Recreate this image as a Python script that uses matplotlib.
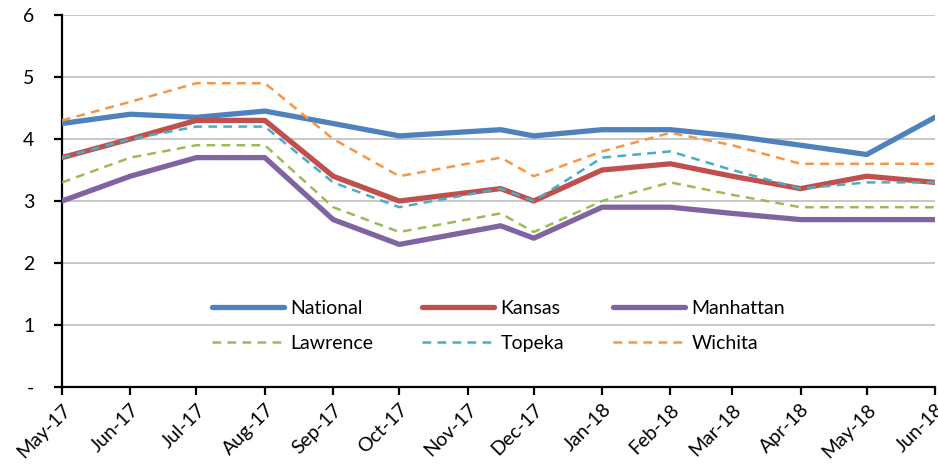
import pandas as pd
import matplotlib.pyplot as plt
import matplotlib.dates as mdates
from matplotlib.ticker import FuncFormatter

plt.rcParams['font.family'] = ['Lato', 'DejaVu Sans']

dates = pd.to_datetime(['2017-05-01', '2017-06-01', '2017-07-01', '2017-08-01',
                        '2017-09-01', '2017-10-01', '2017-11-16', '2017-12-01',
                        '2018-01-01', '2018-02-01', '2018-03-01', '2018-04-01',
                        '2018-05-01', '2018-06-01'])

national  = [4.25, 4.4, 4.35, 4.45, 4.25, 4.05, 4.15, 4.05, 4.15, 4.15, 4.05, 3.9, 3.75, 4.35]
kansas    = [3.7, 4.0, 4.3, 4.3, 3.4, 3.0, 3.2, 3.0, 3.5, 3.6, 3.4, 3.2, 3.4, 3.3]
manhattan = [3.0, 3.4, 3.7, 3.7, 2.7, 2.3, 2.6, 2.4, 2.9, 2.9, 2.8, 2.7, 2.7, 2.7]
lawrence  = [3.3, 3.7, 3.9, 3.9, 2.9, 2.5, 2.8, 2.5, 3.0, 3.3, 3.1, 2.9, 2.9, 2.9]
topeka    = [3.7, 4.0, 4.2, 4.2, 3.3, 2.9, 3.2, 3.0, 3.7, 3.8, 3.5, 3.2, 3.3, 3.3]
wichita   = [4.3, 4.6, 4.9, 4.9, 4.0, 3.4, 3.7, 3.4, 3.8, 4.1, 3.9, 3.6, 3.6, 3.6]

fig = plt.figure(figsize=(9.38, 4.76), dpi=100)
ax = fig.add_axes([62 / 938, 1 - 387 / 476, 873 / 938, 372 / 476])

dash = (0, (3.5, 2.5))
l_nat, = ax.plot(dates, national, color='#4F81BD', lw=3.8, label='National',
                 solid_capstyle='round', zorder=3)
l_kan, = ax.plot(dates, kansas, color='#C0504D', lw=3.8, label='Kansas',
                 solid_capstyle='round', zorder=3)
l_man, = ax.plot(dates, manhattan, color='#8064A2', lw=3.8, label='Manhattan',
                 solid_capstyle='round', zorder=3)
l_law, = ax.plot(dates, lawrence, color='#9BBB59', lw=1.8, ls=dash, label='Lawrence', zorder=4)
l_top, = ax.plot(dates, topeka, color='#4BACC6', lw=1.8, ls=dash, label='Topeka', zorder=4)
l_wic, = ax.plot(dates, wichita, color='#F79646', lw=1.8, ls=dash, label='Wichita', zorder=4)

ax.set_xlim(pd.Timestamp('2017-05-01'), pd.Timestamp('2018-06-01'))
ax.set_ylim(0, 6)
ax.set_yticks(range(0, 7))
ax.yaxis.set_major_formatter(FuncFormatter(lambda v, p: '-' if v == 0 else f'{v:.0f}'))
ax.xaxis.set_major_locator(mdates.MonthLocator())
ax.xaxis.set_major_formatter(mdates.DateFormatter('%b-%y'))
plt.setp(ax.get_xticklabels(), rotation=45, ha='right', rotation_mode='anchor')

ax.grid(axis='y', color='#BFBFBF', lw=1.2)
ax.set_axisbelow(True)
for s in ['top', 'right']:
    ax.spines[s].set_visible(False)
for s in ['left', 'bottom']:
    ax.spines[s].set_linewidth(1.6)
    ax.spines[s].set_color('black')
ax.tick_params(axis='both', direction='out', length=6, width=1.6, labelsize=14, pad=4)
ax.tick_params(axis='y', pad=14)

ax.legend(handles=[l_nat, l_law, l_kan, l_top, l_man, l_wic], ncol=3,
          loc='center', bbox_to_anchor=(0.5, 0.164), frameon=False, fontsize=14,
          handlelength=3.7, handletextpad=0.35, columnspacing=2.5, labelspacing=0.9)

fig.savefig('out.png', dpi=100)
